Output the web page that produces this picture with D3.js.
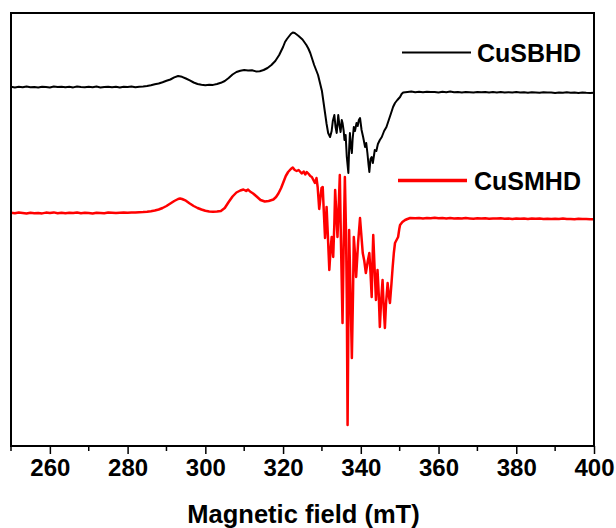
<!DOCTYPE html>
<html>
<head>
<meta charset="utf-8">
<script src="https://cdn.jsdelivr.net/npm/d3@7"></script>
<style>
  html, body { margin: 0; padding: 0; background: #fff; }
  svg { display: block; font-family: "Liberation Sans", Arial, sans-serif; }
</style>
</head>
<body>
<svg id="chart" width="616" height="528"></svg>
<script>
// EPR spectra, [field (mT), signal (a.u., relative to own baseline)]
const cuSBHD = [
  [250,0.3],[251,-0.4],[252,0.2],[253,-0.3],[254,0.5],[255,-0.2],[256,0.1],[257,-0.5],[258,0.3],[259,0],
  [260,-0.4],[261,0.4],[262,-0.1],[263,0.3],[264,-0.3],[265,0.2],[266,-0.4],[267,0.5],[268,0],[269,-0.3],
  [270,0.2],[271,-0.2],[272,0.4],[273,-0.4],[274,0.1],[275,0.3],[276,-0.3],[277,0.2],[278,-0.5],[279,0.2],
  [280,0],[281,0.4],[282,-0.2],[283,0.3],[284,0.6],[285,1],[286,1.8],[287,2.8],[288,3.5],[289,4.8],
  [290,6.2],[291,7.5],[292,9.6],[293,11],[294,10.2],[295,8.5],[296,6.6],[297,4.5],[298,3],[299,2.2],
  [300,1.8],[301,2.3],[302,2.1],[303,3],[304,4.2],[305,6],[306,9],[307,12.5],[308,15],[309,16.3],
  [310,17],[311,16.6],[312,16.8],[313,15.6],[314,15.8],[315,17],[316,19],[317,22],[318,26],[319,32],
  [320,40],[320.5,45],[321,48],[322,53],[322.5,54.5],[323,54],[323.5,52.5],[324,51],[325,47.5],[326,42],
  [326.5,38.5],[327,34],[327.5,28],[328,22],[328.5,17],[329,12],[329.5,4],[330,-4],[330.4,-15],[330.8,-26],
  [331.2,-37],[331.6,-46],[332.1,-50],[332.5,-44],[332.8,-34],[333.2,-28],[333.5,-40],[333.8,-46],[334.2,-28],
  [334.5,-38],[334.8,-45],[335.1,-33],[335.3,-36],[335.6,-44],[335.8,-53],[336.1,-48],[336.4,-70],[336.8,-86],
  [337,-62],[337.2,-46],[337.4,-58],[337.7,-66],[337.9,-52],[338.2,-40],[338.5,-44],[338.9,-36],[339.2,-39],
  [339.5,-33],[339.8,-31],[340.2,-43],[340.6,-50],[341.1,-60],[341.4,-56],[341.7,-66],[342,-78],[342.2,-85],
  [342.5,-72],[342.8,-70],[343.1,-76],[343.6,-63],[344,-64],[344.4,-57],[344.9,-53],[345.4,-50],[346,-44],
  [346.6,-40],[347.2,-33],[347.8,-26],[348.3,-20],[348.8,-16],[349.4,-13],[350.1,-10],[350.5,-7],[350.9,-5.5],
  [352,-5],[353,-4.6],[354,-5.2],[355,-4.8],[356,-5.3],[357,-4.7],[358,-5.1],[359,-4.9],[360,-5.4],[361,-4.8],
  [362,-5.2],[363,-4.6],[364,-5.3],[365,-5],[366,-5.4],[367,-4.9],[368,-5.2],[369,-5.6],[370,-5],[371,-5.3],
  [372,-4.9],[373,-5.5],[374,-5.1],[375,-5.4],[376,-5],[377,-5.6],[378,-5.2],[379,-5.5],[380,-5.1],[381,-5.6],
  [382,-5.3],[383,-5.7],[384,-5.2],[385,-5.5],[386,-5.8],[387,-5.3],[388,-5.6],[389,-5.4],[390,-5.9],[391,-5.5],
  [392,-5.7],[393,-5.3],[394,-5.8],[395,-5.6],[396,-5.9],[397,-5.5],[398,-5.8],[399,-6],[400,-5.7]
];

const cuSMHD = [
  [250,0.2],[251,-0.3],[252,0.4],[253,0],[254,-0.4],[255,0.3],[256,-0.2],[257,0.1],[258,-0.4],[259,0.4],
  [260,0],[261,0.6],[262,-0.2],[263,0.3],[264,-0.3],[265,0.2],[266,-0.1],[267,0.4],[268,-0.3],[269,0.2],
  [270,0],[271,-0.4],[272,0.3],[273,0.1],[274,-0.2],[275,0.4],[276,0.2],[277,-0.1],[278,0.3],[279,0.5],
  [280,0.2],[281,0.6],[282,0.4],[283,0.8],[284,1],[285,1.3],[286,1.8],[287,2.5],[288,3.5],[289,5],
  [290,7],[291,9.5],[292,12],[293,14],[293.5,14.5],[294,14],[295,12.3],[296,9.5],[297,7],[298,5],
  [299,3.5],[300,2.2],[301,1.5],[302,1.2],[303,1.4],[304,2],[305,5],[306,11],[307,16.5],[308,20.5],
  [309,22.5],[309.8,23.5],[310.5,22],[311,23.5],[311.5,21.5],[312.3,19.5],[313.2,16.5],[314.2,13],[315.3,11.5],[316.3,12],
  [317.5,13.5],[318.2,16],[318.8,19.5],[319.5,25],[320.1,31],[320.7,37],[321.3,41],[322,44],[322.5,45.5],[323,43],
  [323.5,42],[324,43],[324.8,39.5],[325.3,41.5],[325.7,38.5],[326.1,41],[326.6,39],[327,37],[327.4,36],[327.8,33],
  [328.2,30],[328.6,35],[328.9,26],[329.3,4],[329.9,25],[330.2,26],[330.5,0],[330.8,-25],[331.2,6],[331.5,-20],
  [331.9,-57],[332.2,-38],[332.5,-24],[332.9,-44],[333.2,-10],[333.4,23],[333.7,0],[334,-24],[334.3,5],[334.6,38],
  [334.9,-30],[335.3,-110],[335.6,-30],[335.9,36],[336.2,-20],[336.4,-87],[336.6,-212],[336.8,-110],[337,-17],[337.3,-70],
  [337.7,-145],[338,-80],[338.2,-24],[338.5,-40],[338.8,-64],[339.3,-30],[339.8,-5],[340.1,-20],[340.5,-40],[340.9,-48],
  [341.3,-60],[341.8,-48],[342.2,-40],[342.5,-60],[342.8,-84],[343,-50],[343.2,-22],[343.6,-60],[343.9,-87],[344.1,-70],
  [344.3,-57],[344.6,-80],[344.9,-114],[345.2,-90],[345.6,-67],[345.9,-95],[346.2,-115],[346.5,-90],[346.9,-70],[347.2,-82],
  [347.5,-90],[347.9,-70],[348.2,-54],[348.5,-40],[348.8,-30],[349.2,-27],[349.6,-24],[349.9,-16],[350.1,-12],[350.7,-9],
  [351.4,-7],[352,-6],[352.7,-5],[354,-5.3],[355,-4.9],[356,-5.4],[357,-5],[358,-5.2],[359,-4.8],[360,-5.3],
  [361,-5.1],[362,-5.5],[363,-5],[364,-5.4],[365,-5.2],[366,-5.6],[367,-5.1],[368,-5.4],[369,-5.7],[370,-5.2],
  [371,-5.5],[372,-5.3],[373,-5.8],[374,-5.4],[375,-5.6],[376,-5.2],[377,-5.7],[378,-5.5],[379,-5.9],[380,-5.4],
  [381,-5.7],[382,-5.5],[383,-6],[384,-5.6],[385,-5.8],[386,-5.5],[387,-6],[388,-5.7],[389,-6.1],[390,-5.8],
  [391,-6],[392,-5.6],[393,-6.1],[394,-5.9],[395,-6.2],[396,-5.8],[397,-6.1],[398,-6],[399,-6.3],[400,-6.2]
];

// vertical stacking offsets of each spectrum
const seriesNames = ["CuSBHD", "CuSMHD"];
const seriesColors = ["#000000", "#ff0000"];
const seriesOffsets = [359, 233];
const seriesWidths = [2, 2.5];

const xTicks = [260, 280, 300, 320, 340, 360, 380, 400];
const xMinorTicks = [250, 270, 290, 310, 330, 350, 370, 390];

const margin = { left: 11, right: 22, top: 13, bottom: 82 };
const width = 616, height = 528;

const svg = d3.select("#chart");

const x = d3.scaleLinear().domain([250, 400]).range([margin.left, width - margin.right]);
const y = d3.scaleLinear().domain([0, 433]).range([height - margin.bottom, margin.top]);

svg.append("clipPath").attr("id", "plot-clip")
  .append("rect")
  .attr("x", x(250)).attr("y", y(433))
  .attr("width", x(400) - x(250)).attr("height", y(0) - y(433));

// --- Spectra ---
const data = [cuSBHD, cuSMHD];
const plot = svg.append("g").attr("clip-path", "url(#plot-clip)");
data.forEach((series, i) => {
  const line = d3.line()
    .x(d => x(d[0]))
    .y(d => y(d[1] + seriesOffsets[i]));
  plot.append("path")
    .datum(series)
    .attr("fill", "none")
    .attr("stroke", seriesColors[i])
    .attr("stroke-width", seriesWidths[i])
    .attr("stroke-linejoin", "round")
    .attr("d", line);
});

// --- Axis ---
const xAxis = svg.append("g")
  .attr("transform", `translate(0,${y(0)})`)
  .call(d3.axisBottom(x).tickValues(xTicks).tickSize(8).tickPadding(5).tickFormat(d3.format("d")));
xAxis.select(".domain").remove();
xAxis.selectAll(".tick line").attr("stroke", "#000").attr("stroke-width", 1.5);
xAxis.selectAll(".tick text")
  .attr("font-size", 24).attr("font-weight", "bold").attr("fill", "#000")
  .attr("font-family", "'Liberation Sans', Arial, sans-serif");

svg.append("g")
  .attr("transform", `translate(0,${y(0)})`)
  .selectAll("line")
  .data(xMinorTicks)
  .join("line")
  .attr("x1", d => x(d)).attr("x2", d => x(d))
  .attr("y1", 0).attr("y2", 5)
  .attr("stroke", "#000").attr("stroke-width", 1.5);

// frame
svg.append("rect")
  .attr("x", x(250)).attr("y", y(433))
  .attr("width", x(400) - x(250)).attr("height", y(0) - y(433))
  .attr("fill", "none").attr("stroke", "#000").attr("stroke-width", 2);

svg.append("text")
  .attr("x", (x(250) + x(400)) / 2 + 1).attr("y", 523)
  .attr("text-anchor", "middle")
  .attr("font-size", 25.5).attr("font-weight", "bold")
  .text("Magnetic field (mT)");

// --- Legend ---
const legendRows = [
  { lx: 402, ly: 52.5, tx: 477 },
  { lx: 398, ly: 180.5, tx: 474 }
];
legendRows.forEach((r, i) => {
  svg.append("line")
    .attr("x1", r.lx).attr("x2", r.lx + 69)
    .attr("y1", r.ly).attr("y2", r.ly)
    .attr("stroke", seriesColors[i])
    .attr("stroke-width", i === 0 ? 2.2 : 3.4);
  svg.append("text")
    .attr("x", r.tx).attr("y", r.ly + 9)
    .attr("font-size", 25).attr("font-weight", "bold")
    .attr("fill", "#000")
    .text(seriesNames[i]);
});
</script>
</body>
</html>
